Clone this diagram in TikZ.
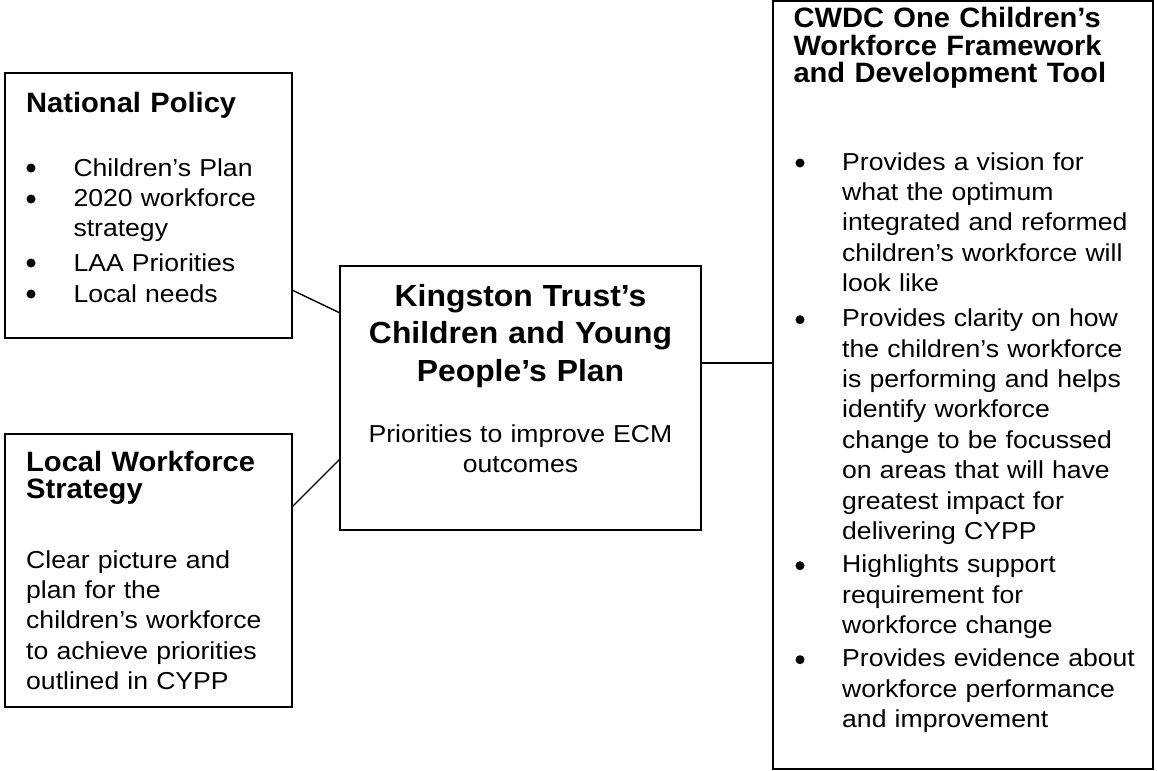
\documentclass[tikz,border=0pt]{standalone}
\usepackage{fontspec}
\setmainfont{Liberation Sans}
\newfontfamily\bodyfont{Liberation Sans}[FakeStretch=1.085]
\newfontfamily\headfont{Liberation Sans}[FakeStretch=1.04]
\newfontfamily\bigheadfont{Liberation Sans}[FakeStretch=1.045]
\usetikzlibrary{calc}
\begin{document}
\begin{tikzpicture}[x=1pt,y=-1pt,
  box/.style={draw=black, line width=1.6pt, rectangle, inner sep=0pt, outer sep=0pt},
  link/.style={draw=black, line width=1.4pt},
  bodytext/.style={font=\bodyfont\fontsize{24.5}{30.4}\selectfont, anchor=base west,
    inner sep=0pt, align=left, text width=330pt},
  headtext/.style={font=\headfont\bfseries\fontsize{28}{27.7}\selectfont, anchor=base west,
    inner sep=0pt, align=left, text width=360pt},
  bighead/.style={font=\bigheadfont\bfseries\fontsize{30.5}{37.5}\selectfont, anchor=base,
    inner sep=0pt, align=center, text width=355pt},
  centertext/.style={font=\bodyfont\fontsize{24.5}{30}\selectfont, anchor=base,
    inner sep=0pt, align=center, text width=355pt},
  dot/.style={fill=black}]
\useasboundingbox (0,0) rectangle (1157,771);

% frames
\node[box, minimum width=287pt, minimum height=265pt] (np) at (148.5,205.5) {};
\node[box, minimum width=287pt, minimum height=273pt] (lws) at (148.5,570.5) {};
\node[box, minimum width=361pt, minimum height=264pt] (kt) at (520.5,398) {};
\node[box, minimum width=380pt, minimum height=768pt] (cwdc) at (963,385) {};

% connectors
\draw[link] ($(np.east)+(0,84.5)$) -- ($(kt.west)+(0,-85)$);
\draw[link] ($(lws.east)+(0,-63.5)$) -- ($(kt.west)+(0,61)$);
\coordinate (kout) at ($(kt.east)+(0,-35)$);
\draw[link] (kout) -- (kout -| cwdc.west);

% National Policy
\node[headtext] (npt) at (26,112.7) {National Policy};
\node[bodytext] (np1) at (73.3,176) {Children’s Plan};
\node[bodytext] (np2) at (73.3,206.7) {2020 workforce\\[-1pt]strategy};
\node[bodytext] (np3) at (73.3,271) {LAA Priorities};
\node[bodytext] (np4) at (73.3,302) {Local needs};
\foreach \yy in {168,199,263,294} \fill[dot] (31,\yy) circle (4.5pt);

% Local Workforce Strategy
\node[headtext, font=\headfont\bfseries\fontsize{28}{26.6}\selectfont] (lwst) at (26,471.7) {Local Workforce\\Strategy};
\node[bodytext, font=\bodyfont\fontsize{24.5}{30.25}\selectfont] (lwsb) at (26,568.3)
  {Clear picture and\\plan for the\\children’s workforce\\to achieve priorities\\outlined in CYPP};

% Kingston Trust's plan
\node[bighead] (ktt) at (520.5,306) {Kingston Trust’s\\Children and Young\\People’s Plan};
\node[centertext] (ktb) at (520.5,442.7) {Priorities to improve ECM\\outcomes};

% CWDC framework
\node[headtext] (cwt) at (793.3,27.3) {CWDC One Children’s\\Workforce Framework\\and Development Tool};
\node[bodytext] (cw1) at (842,170)
  {Provides a vision for\\what the optimum\\integrated and reformed\\children’s workforce will\\look like};
\node[bodytext] (cw2) at (842,326.7)
  {Provides clarity on how\\the children’s workforce\\is performing and helps\\identify workforce\\change to be focussed\\on areas that will have\\greatest impact for\\delivering CYPP};
\node[bodytext] (cw3) at (842,572.7)
  {Highlights support\\requirement for\\workforce change};
\node[bodytext] (cw4) at (842,666.7)
  {Provides evidence about\\workforce performance\\and improvement};
\foreach \yy in {163,319.7,565.7,659.7} \fill[dot] (800,\yy) circle (4.5pt);
\end{tikzpicture}
\end{document}
